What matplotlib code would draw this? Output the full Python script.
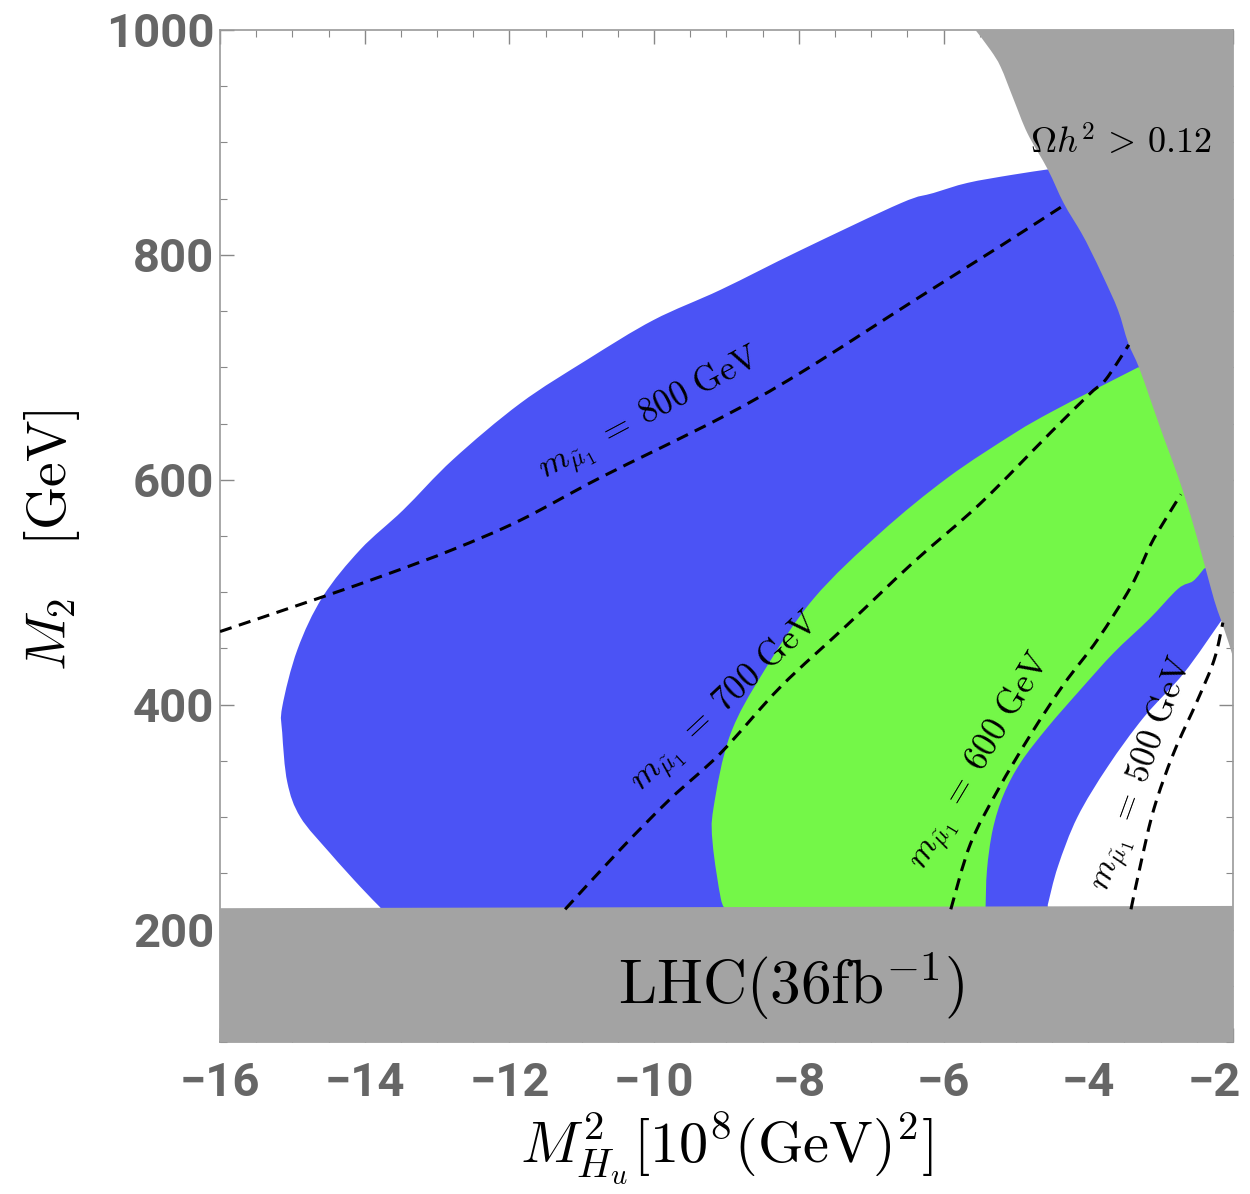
import matplotlib
matplotlib.use("Agg")
import matplotlib.pyplot as plt
from matplotlib.path import Path
from matplotlib.patches import PathPatch
from matplotlib.ticker import MultipleLocator
from matplotlib.transforms import ScaledTranslation

plt.rcParams['mathtext.fontset'] = 'cm'

# --- data (x in 10^8 GeV^2, y in GeV) ---
# blue region: outer edge, then the edge of the white hole at lower right
blue_outer_x = [-4.56, -5.07, -5.67, -6.14, -6.59, -7.98, -9.08, -10.01, -10.92, -11.85, -12.78,
                -13.47, -14.06, -14.58, -14.93, -15.14, -15.14, -15.07, -14.89, -14.48, -14.06,
                -13.79]
blue_outer_y = [876, 871, 864, 855, 846, 804, 769, 742, 707, 668, 618,
                573, 538, 496, 449, 398, 375, 331, 300, 268, 238,
                220]
blue_base_x = [-13.6, -4.56]
blue_base_y = [205, 205]
blue_inner_x = [-4.56, -4.42, -4.15, -3.73, -3.23, -2.68, -2.17]
blue_inner_y = [222, 256, 300, 345, 389, 428, 474]
blue_close_x = [-2.0, -2.0]
blue_close_y = [480, 880]

green_top_x = [-3.31, -3.92, -4.52, -5.03, -5.94, -6.87, -7.80, -8.49, -8.95, -9.18, -9.19,
               -9.08, -9.01]
green_top_y = [700, 680, 660, 641, 602, 553, 494, 429, 373, 308, 276,
               228, 218]
green_base_x = [-9.0, -5.42]
green_base_y = [205, 205]
green_inner_x = [-5.42, -5.40, -5.32, -5.17, -4.93, -4.56, -4.10, -3.65, -3.16, -2.76, -2.55, -2.40]
green_inner_y = [218, 253, 289, 320, 349, 380, 414, 446, 476, 503, 510, 521]
green_close_x = [-2.0, -2.0]
green_close_y = [530, 700]

relic_x = [-5.56, -5.35, -5.21, -5.03, -4.84, -4.56, -4.34, -4.10, -3.97, -3.79, -3.59,
           -3.45, -3.30, -3.14, -2.96, -2.76, -2.58, -2.40, -2.26, -2.17, -2.06, -1.99]
relic_y = [1000, 982, 967, 938, 908, 876, 846, 820, 804, 780, 751,
           722, 700, 671, 638, 603, 567, 526, 493, 476, 455, 440]
relic_close_x = [-1.99]
relic_close_y = [1000]

lhc_x = [-16, -2, -2, -16]
lhc_y = [100, 100, 221, 219]

m800_x = [-16.00, -14.62, -13.69, -12.78, -11.85, -10.74, -9.08, -7.98, -6.32, -5.21, -4.34]
m800_y = [465, 495, 516, 538, 564, 602, 655, 695, 763, 808, 844]
m700_x = [-11.23, -10.47, -9.78, -9.08, -8.25, -7.33, -6.41, -5.49, -4.52, -3.97, -3.76, -3.44]
m700_y = [218, 271, 316, 357, 416, 471, 527, 579, 642, 677, 689, 720]
m600_x = [-5.90, -5.63, -5.25, -4.80, -4.34, -3.87, -3.41, -3.14, -2.96, -2.72]
m600_y = [218, 276, 324, 373, 418, 458, 505, 542, 562, 587]
m500_x = [-3.41, -3.27, -3.09, -2.82, -2.49, -2.26, -2.14]
m500_y = [218, 260, 308, 357, 404, 440, 473]

mass_labels = ['800', '700', '600', '500']
label_x = [-10.05, -9.0, -5.49, -3.25]
label_y = [658, 402, 349, 338]
label_rot = [28, 43, 59, 70]

blue = '#4B53F5'
green = '#74F748'
grey = '#A3A3A3'


def curve_path(runs, closed=True):
    # Catmull-Rom curve through each run, runs joined by straight lines
    verts, codes = [], []
    for k, (xs, ys) in enumerate(runs):
        pts = list(zip(xs, ys))
        verts.append(pts[0])
        codes.append(Path.MOVETO if k == 0 else Path.LINETO)
        n = len(pts)
        for i in range(n - 1):
            p0 = pts[max(i - 1, 0)]
            p1, p2 = pts[i], pts[i + 1]
            p3 = pts[min(i + 2, n - 1)]
            c1 = (p1[0] + (p2[0] - p0[0]) / 6, p1[1] + (p2[1] - p0[1]) / 6)
            c2 = (p2[0] - (p3[0] - p1[0]) / 6, p2[1] - (p3[1] - p1[1]) / 6)
            verts += [c1, c2, p2]
            codes += [Path.CURVE4] * 3
    if closed:
        verts.append(verts[0])
        codes.append(Path.CLOSEPOLY)
    return Path(verts, codes)


fig = plt.figure(figsize=(12.5, 11.94), dpi=100)
ax = fig.add_axes([0.176, 0.1273, 0.8104, 0.8476])

blue_path = curve_path([(blue_outer_x, blue_outer_y), (blue_base_x, blue_base_y),
                        (blue_inner_x, blue_inner_y), (blue_close_x, blue_close_y)])
green_path = curve_path([(green_top_x, green_top_y), (green_base_x, green_base_y),
                         (green_inner_x, green_inner_y), (green_close_x, green_close_y)])
relic_path = curve_path([(relic_x, relic_y), (relic_close_x, relic_close_y)])

ax.add_patch(PathPatch(blue_path, facecolor=blue, lw=0, zorder=1))
ax.add_patch(PathPatch(green_path, facecolor=green, lw=0, zorder=2))
ax.add_patch(PathPatch(relic_path, facecolor=grey, lw=0, zorder=3))
ax.fill(lhc_x, lhc_y, color=grey, lw=0, zorder=3)

for xs, ys in [(m800_x, m800_y), (m700_x, m700_y), (m600_x, m600_y), (m500_x, m500_y)]:
    ax.add_patch(PathPatch(curve_path([(xs, ys)], closed=False), fill=False,
                           edgecolor='black', lw=2.2, ls=(0, (4, 2.5)), zorder=4))

for m, x, y, r in zip(mass_labels, label_x, label_y, label_rot):
    ax.text(x, y, r'$m_{\tilde{\mu}_1}\;=\;%s\ \mathrm{GeV}$' % m, fontsize=25,
            rotation=r, rotation_mode='anchor', ha='center', va='center', zorder=5)

ax.text(-3.55, 900, r'$\Omega h^2\,>\,0.12$', fontsize=26, ha='center', va='center', zorder=5)
ax.text(-8.1, 150, r'$\mathrm{LHC}(36\mathrm{fb}^{-1})$', fontsize=44, ha='center',
        va='center', zorder=5)

ax.set_xlim(-16, -2)
ax.set_ylim(100, 1000)
ax.xaxis.set_major_locator(MultipleLocator(2))
ax.xaxis.set_minor_locator(MultipleLocator(0.5))
ax.yaxis.set_minor_locator(MultipleLocator(50))
ax.set_yticks([200, 400, 600, 800, 1000])

ax.tick_params(which='both', direction='in', top=True, right=True, color='#888888')
ax.tick_params(which='major', length=10, width=1.0)
ax.tick_params(which='minor', length=5, width=0.8)
ax.tick_params(axis='x', pad=14)
ax.tick_params(axis='y', pad=4)
for lab in ax.get_xticklabels() + ax.get_yticklabels():
    lab.set_family(['Roboto', 'DejaVu Sans'])
    lab.set_fontweight('bold')
    lab.set_fontsize(34)
    lab.set_color('#666666')
for sp in ax.spines.values():
    sp.set_color('#999999')
    sp.set_linewidth(1.2)

ax.set_xlabel(r'$M^2_{H_u}[10^8(\mathrm{GeV})^2]$', fontsize=42, labelpad=4)
ax.set_ylabel(r'$M_2\ \ \ [\mathrm{GeV}]$', fontsize=40)
ax.yaxis.set_label_coords(-0.136, 0.496)

# keep the last x label inside the figure, as in the original
fig.canvas.draw()
for tick in ax.xaxis.get_major_ticks():
    if abs(tick.get_loc() - (-2)) < 1e-6:
        tick.label1.set_horizontalalignment('right')
        tick.label1.set_transform(tick.label1.get_transform()
                                  + ScaledTranslation(0.08, 0, fig.dpi_scale_trans))

fig.savefig('out.png', dpi=100)
